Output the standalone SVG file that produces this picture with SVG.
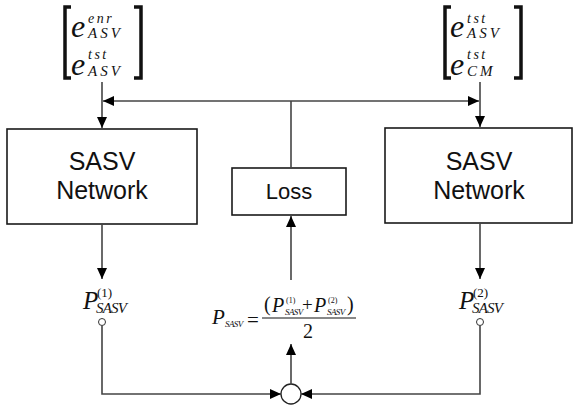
<svg xmlns="http://www.w3.org/2000/svg" width="573" height="405" viewBox="0 0 573 405">
<style>
.box{fill:#fff;stroke:#1a1a1a;stroke-width:1.6}
.ln{fill:none;stroke:#444;stroke-width:1.6}
.lbl{font-family:"Liberation Sans",Arial,sans-serif;fill:#111;text-anchor:middle}
.m{font-family:"Liberation Serif","Times New Roman",serif;font-style:italic;fill:#111}
.mr{font-family:"Liberation Serif","Times New Roman",serif;fill:#111}
.br{fill:none;stroke:#111;stroke-width:3.5}
</style>
<defs>
<marker id="ah" markerWidth="11" markerHeight="10" refX="11" refY="5" orient="auto" markerUnits="userSpaceOnUse">
<path d="M0,0 L11,5 L0,10 z" fill="#000"/>
</marker>
</defs>

<g id="input-left">
<path class="br" d="M71,7 H65 V78 H71"/>
<path class="br" d="M134,7 H141 V78 H134"/>
<text class="m" x="71" y="37" font-size="32">e</text>
<text class="m" x="88" y="23" font-size="14" letter-spacing="2.5">enr</text>
<text class="m" x="88" y="38" font-size="15" letter-spacing="3">ASV</text>
<text class="m" x="71" y="75" font-size="32">e</text>
<text class="m" x="88" y="59" font-size="14" letter-spacing="2.5">tst</text>
<text class="m" x="88" y="76" font-size="15" letter-spacing="3">ASV</text>
</g>

<g id="input-right">
<path class="br" d="M451,7 H445 V78 H451"/>
<path class="br" d="M514,7 H521 V78 H514"/>
<text class="m" x="450" y="37" font-size="32">e</text>
<text class="m" x="467" y="23" font-size="14" letter-spacing="2.5">tst</text>
<text class="m" x="467" y="38" font-size="15" letter-spacing="3">ASV</text>
<text class="m" x="450" y="75" font-size="32">e</text>
<text class="m" x="467" y="59" font-size="14" letter-spacing="2.5">tst</text>
<text class="m" x="467" y="76" font-size="15" letter-spacing="3">CM</text>
</g>

<g id="sasv-left">
<rect class="box" x="7" y="129" width="190" height="95"/>
<text class="lbl" x="102" y="170" font-size="25">SASV</text>
<text class="lbl" x="102" y="199" font-size="25">Network</text>
</g>

<g id="loss">
<rect class="box" x="232" y="168" width="114" height="47"/>
<text class="lbl" x="289" y="199" font-size="22">Loss</text>
</g>

<g id="sasv-right">
<rect class="box" x="385" y="128" width="187" height="95"/>
<text class="lbl" x="479" y="170" font-size="25">SASV</text>
<text class="lbl" x="479" y="199" font-size="25">Network</text>
</g>

<g id="p1">
<text class="m" x="83" y="309" font-size="25">P</text>
<text class="mr" x="97" y="297" font-size="13">(1)</text>
<text class="m" x="96" y="313" font-size="15" letter-spacing="-0.8">SASV</text>
<circle cx="102" cy="322" r="3.5" fill="#fff" stroke="#333" stroke-width="1"/>
</g>

<g id="p2">
<text class="m" x="459" y="309" font-size="25">P</text>
<text class="mr" x="473" y="297" font-size="13">(2)</text>
<text class="m" x="472" y="313" font-size="15" letter-spacing="-0.8">SASV</text>
<circle cx="480" cy="322" r="3.5" fill="#fff" stroke="#333" stroke-width="1"/>
</g>

<g id="formula">
<text class="m" x="212" y="324" font-size="21">P</text>
<text class="m" x="225" y="327" font-size="9" letter-spacing="-0.6">SASV</text>
<text class="mr" x="247" y="327" font-size="21">=</text>
<line x1="262" y1="318" x2="356" y2="318" stroke="#111" stroke-width="1"/>
<text class="mr" x="264" y="311" font-size="20">(</text>
<text class="m" x="272" y="312" font-size="20">P</text>
<text class="mr" x="286" y="303" font-size="8">(1)</text>
<text class="m" x="285" y="315" font-size="9" letter-spacing="-0.6">SASV</text>
<text class="mr" x="302" y="311" font-size="19">+</text>
<text class="m" x="314" y="312" font-size="20">P</text>
<text class="mr" x="328" y="303" font-size="8">(2)</text>
<text class="m" x="327" y="315" font-size="9" letter-spacing="-0.6">SASV</text>
<text class="mr" x="347" y="311" font-size="20">)</text>
<text class="mr" x="308" y="338" font-size="20" text-anchor="middle">2</text>
</g>

<g id="merge">
<circle cx="291" cy="394" r="10" fill="#fff" stroke="#222" stroke-width="1.3"/>
</g>

<g id="connectors">
<path class="ln" d="M102,82 V128" marker-end="url(#ah)"/>
<path class="ln" d="M480,82 V127" marker-end="url(#ah)"/>
<path class="ln" d="M291,101 H103" marker-end="url(#ah)"/>
<path class="ln" d="M291,101 H479" marker-end="url(#ah)"/>
<path class="ln" d="M291,101 V168"/>
<path class="ln" d="M102,224 V279" marker-end="url(#ah)"/>
<path class="ln" d="M480,223 V279" marker-end="url(#ah)"/>
<path class="ln" d="M291,280 V216" marker-end="url(#ah)"/>
<path class="ln" d="M291,384 V344" marker-end="url(#ah)"/>
<path class="ln" d="M102,326 V394 H281" marker-end="url(#ah)"/>
<path class="ln" d="M480,326 V394 H301" marker-end="url(#ah)"/>
</g>
</svg>
